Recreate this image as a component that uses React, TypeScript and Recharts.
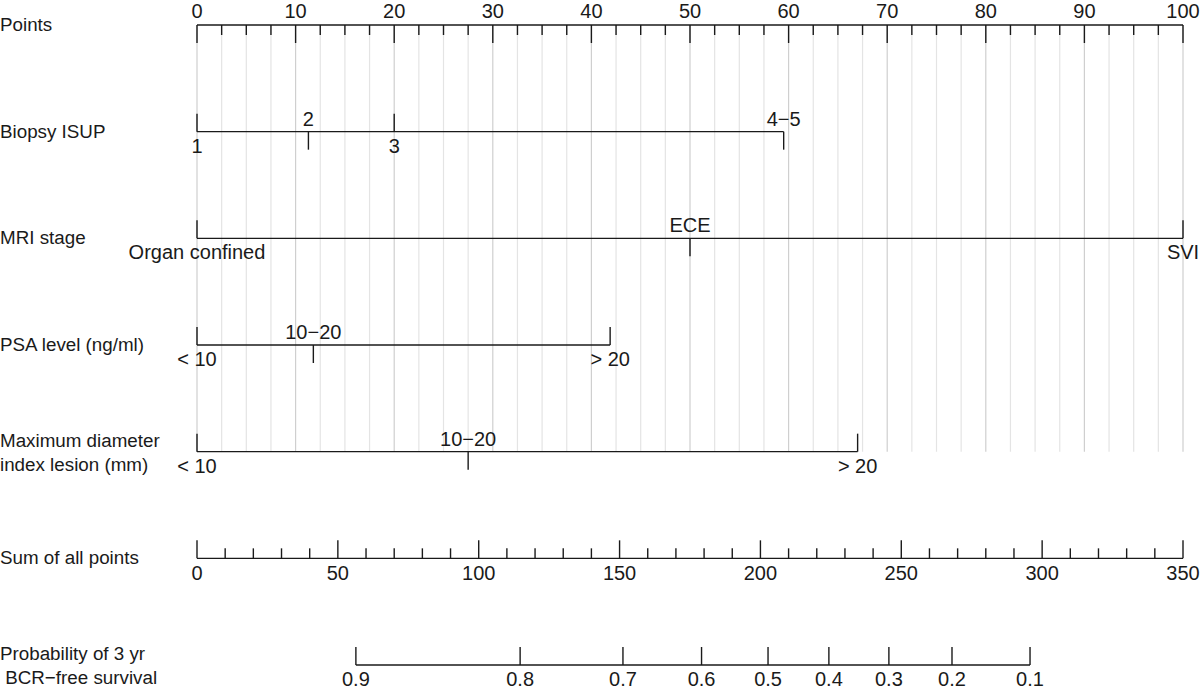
import React from 'react';
import { ScatterChart, Scatter, XAxis, YAxis, ReferenceLine } from 'recharts';

// nomogram rows, top to bottom
const rowNames: string[][] = [
  ['Points'],
  ['Biopsy ISUP'],
  ['MRI stage'],
  ['PSA level (ng/ml)'],
  ['Maximum diameter', 'index lesion (mm)'],
  ['Sum of all points'],
  ['Probability of 3 yr', ' BCR\u2212free survival'],
];
const rowIdx = [0, 1, 2, 3, 4, 5, 6];

// points scale (0-100)
const pointMajor = [0, 10, 20, 30, 40, 50, 60, 70, 80, 90, 100];
const pointStep = 2.5;

// predictor levels and the points they get
const isupLevels = ['1', '2', '3', '4\u22125'];
const isupPoints = [0, 11.3, 20, 59.5];
const mriLevels = ['Organ confined', 'ECE', 'SVI'];
const mriPoints = [0, 50, 100];
const psaLevels = ['< 10', '10\u221220', '> 20'];
const psaPoints = [0, 11.8, 41.9];
const diamLevels = ['< 10', '10\u221220', '> 20'];
const diamPoints = [0, 27.5, 67];

// total points scale (0-350)
const totalMajor = [0, 50, 100, 150, 200, 250, 300, 350];
const totalStep = 10;

// probability scale placed on total points
const probLabels = ['0.9', '0.8', '0.7', '0.6', '0.5', '0.4', '0.3', '0.2', '0.1'];
const probTotals = [56.4, 114.7, 151.2, 179.1, 202.7, 224.3, 245.6, 268.0, 295.7];

const FONT = '"Liberation Sans", Arial, Helvetica, sans-serif';
const INK = '#1a1a1a';
const SW = 1.4;

const steps = (max: number, step: number) => {
  const out: number[] = [];
  for (let v = 0; v <= max + 1e-9; v += step) out.push(+v.toFixed(2));
  return out;
};

const gridVals = steps(100, pointStep);
const pointTicks = gridVals.map((v) => ({ x: v, y: 0, major: pointMajor.includes(v) }));
const totalTicks = steps(350, totalStep).map((v) => ({ x: v, y: 5, major: totalMajor.includes(v) }));
const probTicks = probLabels.map((l, i) => ({ x: probTotals[i], y: 6, label: l }));

const levelData = (labels: string[], pts: number[], row: number) =>
  labels.map((l, i) => ({ x: pts[i], y: row, label: l, i }));

const levelRows = [
  { row: 1, labels: isupLevels, pts: isupPoints },
  { row: 2, labels: mriLevels, pts: mriPoints },
  { row: 3, labels: psaLevels, pts: psaPoints },
  { row: 4, labels: diamLevels, pts: diamPoints },
];

const txt = { fontFamily: FONT, fontSize: 20, fill: INK } as const;

const PointTick = (p: any) => {
  const { cx, cy, payload } = p;
  return (
    <g>
      <line x1={cx} x2={cx} y1={cy} y2={cy + (payload.major ? 18 : 10)} stroke={INK} strokeWidth={SW} />
      {payload.major && (
        <text x={cx} y={cy - 7} textAnchor="middle" {...txt}>{payload.x}</text>
      )}
    </g>
  );
};

const TotalTick = (p: any) => {
  const { cx, cy, payload } = p;
  return (
    <g>
      <line x1={cx} x2={cx} y1={cy} y2={cy - (payload.major ? 18 : 10)} stroke={INK} strokeWidth={SW} />
      {payload.major && (
        <text x={cx} y={cy + 22} textAnchor="middle" {...txt}>{payload.x}</text>
      )}
    </g>
  );
};

const ProbTick = (p: any) => {
  const { cx, cy, payload } = p;
  return (
    <g>
      <line x1={cx} x2={cx} y1={cy} y2={cy - 18} stroke={INK} strokeWidth={SW} />
      <text x={cx} y={cy + 21} textAnchor="middle" {...txt}>{payload.label}</text>
    </g>
  );
};

const LevelTick = (p: any) => {
  const { cx, cy, payload } = p;
  const below = payload.i % 2 === 0;
  return (
    <g>
      <line x1={cx} x2={cx} y1={cy} y2={below ? cy - 18 : cy + 18} stroke={INK} strokeWidth={SW} />
      <text x={cx} y={below ? cy + 21 : cy - 6} textAnchor="middle" {...txt}>{payload.label}</text>
    </g>
  );
};

const RowName = (p: any) => {
  const { y, payload } = p;
  const lines = rowNames[payload.value];
  const style = { fontFamily: FONT, fontSize: 18.8, fill: INK, whiteSpace: 'pre' } as const;
  if (lines.length === 1) {
    return <text x={0} y={y + 6} style={style}>{lines[0]}</text>;
  }
  return (
    <text x={0} y={y} style={style}>
      <tspan x={0} y={y - 5}>{lines[0]}</tspan>
      <tspan x={0} y={y + 19}>{lines[1]}</tspan>
    </text>
  );
};

export default function App() {
  return (
    <div style={{ position: 'absolute', left: 0, top: 0, background: '#fff' }}>
      <ScatterChart width={1200} height={697} margin={{ top: 25, right: 17, bottom: 32, left: 0 }}>
        <XAxis xAxisId="pts" dataKey="x" type="number" domain={[0, 100]} hide />
        <XAxis xAxisId="tot" dataKey="x" type="number" domain={[0, 350]} hide />
        <YAxis
          dataKey="y"
          type="number"
          domain={[0, 6]}
          reversed
          width={197}
          ticks={rowIdx}
          interval={0}
          axisLine={false}
          tickLine={false}
          tick={<RowName />}
        />

        {/* light vertical guide lines */}
        {gridVals.map((v) => (
          <ReferenceLine
            key={'g' + v}
            xAxisId="pts"
            segment={[{ x: v, y: 0 }, { x: v, y: 4 }]}
            stroke={v % 10 === 0 ? '#cfcfcf' : '#e4e4e4'}
            strokeWidth={1.2}
          />
        ))}

        {/* axis lines */}
        <ReferenceLine xAxisId="pts" segment={[{ x: 0, y: 0 }, { x: 100, y: 0 }]} stroke={INK} strokeWidth={SW} />
        {levelRows.map((r) => (
          <ReferenceLine
            key={'l' + r.row}
            xAxisId="pts"
            segment={[{ x: Math.min(...r.pts), y: r.row }, { x: Math.max(...r.pts), y: r.row }]}
            stroke={INK}
            strokeWidth={SW}
          />
        ))}
        <ReferenceLine xAxisId="tot" segment={[{ x: 0, y: 5 }, { x: 350, y: 5 }]} stroke={INK} strokeWidth={SW} />
        <ReferenceLine
          xAxisId="tot"
          segment={[{ x: Math.min(...probTotals), y: 6 }, { x: Math.max(...probTotals), y: 6 }]}
          stroke={INK}
          strokeWidth={SW}
        />

        <Scatter xAxisId="pts" data={pointTicks} shape={<PointTick />} isAnimationActive={false} />
        {levelRows.map((r) => (
          <Scatter
            key={'s' + r.row}
            xAxisId="pts"
            data={levelData(r.labels, r.pts, r.row)}
            shape={<LevelTick />}
            isAnimationActive={false}
          />
        ))}
        <Scatter xAxisId="tot" data={totalTicks} shape={<TotalTick />} isAnimationActive={false} />
        <Scatter xAxisId="tot" data={probTicks} shape={<ProbTick />} isAnimationActive={false} />
      </ScatterChart>
    </div>
  );
}
